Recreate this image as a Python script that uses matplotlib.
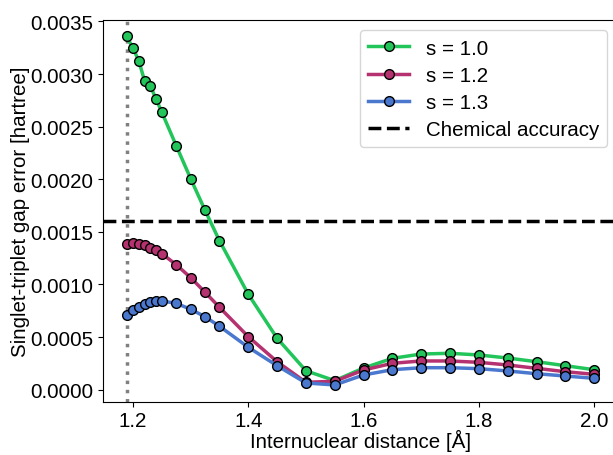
import matplotlib
matplotlib.use("Agg")
import matplotlib.pyplot as plt

plt.rcParams['font.family'] = ['Liberation Sans', 'DejaVu Sans']

distance = [1.189, 1.2, 1.21, 1.22, 1.23, 1.24, 1.25, 1.275, 1.3, 1.325, 1.35,
            1.4, 1.45, 1.5, 1.55, 1.6, 1.65, 1.7, 1.75, 1.8, 1.85, 1.9, 1.95, 2.0]

err_s10 = [0.003359, 0.003245, 0.003127, 0.002937, 0.002887, 0.002763, 0.002637,
           0.002319, 0.002006, 0.001705, 0.001416,
           0.000907, 0.000489, 0.000180, 0.000086, 0.000206, 0.000298, 0.000339,
           0.000346, 0.000330, 0.000301, 0.000266, 0.000228, 0.000190]

err_s12 = [0.001385, 0.001392, 0.001385, 0.001373, 0.001350, 0.001325, 0.001293,
           0.001188, 0.001065, 0.000926, 0.000783,
           0.000504, 0.000266, 0.000070, 0.000080, 0.000187, 0.000251, 0.000273,
           0.000273, 0.000260, 0.000235, 0.000203, 0.000171, 0.000146]

err_s13 = [0.000713, 0.000758, 0.000786, 0.000812, 0.000831, 0.000843, 0.000843,
           0.000821, 0.000764, 0.000694, 0.000603,
           0.000403, 0.000228, 0.000064, 0.000045, 0.000140, 0.000190, 0.000209,
           0.000209, 0.000200, 0.000178, 0.000152, 0.000130, 0.000108]

series_labels = ['s = 1.0', 's = 1.2', 's = 1.3']
series_colors = ['#22c55a', '#b5316f', '#4a78cf']
chem_accuracy = 0.0016
equilibrium = 1.189

FS = 14.8

fig = plt.figure(figsize=(6.13, 4.56), dpi=100)
ax = fig.add_axes([0.1685, 0.1169, 0.839, 0.837])

ax.axvline(equilibrium, color='gray', linestyle=':', linewidth=2.5, zorder=1)

for vals, lab, col in zip([err_s10, err_s12, err_s13], series_labels, series_colors):
    ax.plot(distance, vals, '-o', color=col, linewidth=2.5, markersize=7,
            markerfacecolor=col, markeredgecolor='black', markeredgewidth=1.0,
            label=lab, zorder=3)

ax.axhline(chem_accuracy, color='black', linestyle='--', linewidth=2.5,
           label='Chemical accuracy', zorder=2)

ax.set_xlim(1.1485, 2.0406)
ax.set_ylim(-0.000114, 0.003513)
ax.set_xticks([1.2, 1.4, 1.6, 1.8, 2.0])
ax.set_yticks([0.0, 0.0005, 0.0010, 0.0015, 0.0020, 0.0025, 0.0030, 0.0035])
ax.set_yticklabels(['0.0000', '0.0005', '0.0010', '0.0015', '0.0020', '0.0025',
                    '0.0030', '0.0035'])
ax.tick_params(labelsize=FS)
ax.set_xlabel('Internuclear distance [Å]', fontsize=FS, labelpad=-1)
ax.set_ylabel('Singlet-triplet gap error [hartree]', fontsize=FS, labelpad=0.5)
ax.legend(loc='upper right', fontsize=FS, handlelength=2.0, borderaxespad=0.5,
          labelspacing=0.4)

fig.savefig('out.png', dpi=100)
